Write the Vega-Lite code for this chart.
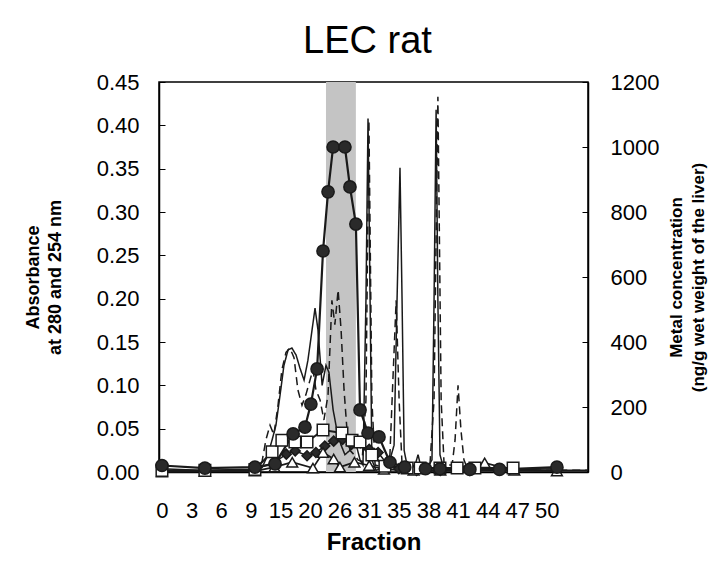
{
  "$schema": "https://vega.github.io/schema/vega-lite/v6.json",
  "width": 429,
  "height": 390,
  "autosize": "none",
  "padding": {"left": 159, "top": 82, "right": 123, "bottom": 99},
  "background": "white",
  "title": {"text": "LEC rat", "fontSize": 38, "font": "Liberation Sans", "fontWeight": "normal", "color": "black", "anchor": "middle", "offset": 10, "dx": -6},
  "config": {
    "view": {"stroke": "black", "strokeWidth": 1.5},
    "axis": {"grid": false, "labelFont": "Liberation Sans", "titleFont": "Liberation Sans", "labelColor": "black", "titleColor": "black", "domainColor": "black", "domainWidth": 1.5, "tickColor": "black", "tickWidth": 1, "labelFontSize": 22, "labelFlush": false, "labelOverlap": false, "titleFontWeight": "bold"}
  },
  "datasets": {
    "band": [{"from": 5.54, "to": 6.55}],
    "absorbance": [
      {"pos": -0.07, "series": "A280", "abs": 0.002},
      {"pos": 1.28, "series": "A280", "abs": 0.001},
      {"pos": 2.97, "series": "A280", "abs": 0.002},
      {"pos": 3.38, "series": "A280", "abs": 0.005},
      {"pos": 3.58, "series": "A280", "abs": 0.020},
      {"pos": 3.72, "series": "A280", "abs": 0.037},
      {"pos": 3.85, "series": "A280", "abs": 0.054},
      {"pos": 3.99, "series": "A280", "abs": 0.089},
      {"pos": 4.12, "series": "A280", "abs": 0.123},
      {"pos": 4.26, "series": "A280", "abs": 0.141},
      {"pos": 4.39, "series": "A280", "abs": 0.143},
      {"pos": 4.53, "series": "A280", "abs": 0.135},
      {"pos": 4.66, "series": "A280", "abs": 0.120},
      {"pos": 4.80, "series": "A280", "abs": 0.106},
      {"pos": 4.93, "series": "A280", "abs": 0.129},
      {"pos": 5.07, "series": "A280", "abs": 0.164},
      {"pos": 5.17, "series": "A280", "abs": 0.189},
      {"pos": 5.27, "series": "A280", "abs": 0.164},
      {"pos": 5.41, "series": "A280", "abs": 0.100},
      {"pos": 5.54, "series": "A280", "abs": 0.123},
      {"pos": 5.64, "series": "A280", "abs": 0.115},
      {"pos": 5.78, "series": "A280", "abs": 0.072},
      {"pos": 5.91, "series": "A280", "abs": 0.048},
      {"pos": 6.05, "series": "A280", "abs": 0.031},
      {"pos": 6.18, "series": "A280", "abs": 0.020},
      {"pos": 6.35, "series": "A280", "abs": 0.025},
      {"pos": 6.52, "series": "A280", "abs": 0.037},
      {"pos": 6.69, "series": "A280", "abs": 0.014},
      {"pos": 6.79, "series": "A280", "abs": 0.008},
      {"pos": 6.89, "series": "A280", "abs": 0.198},
      {"pos": 6.96, "series": "A280", "abs": 0.408},
      {"pos": 7.03, "series": "A280", "abs": 0.198},
      {"pos": 7.09, "series": "A280", "abs": 0.014},
      {"pos": 7.23, "series": "A280", "abs": 0.002},
      {"pos": 7.53, "series": "A280", "abs": 0.005},
      {"pos": 7.70, "series": "A280", "abs": 0.014},
      {"pos": 7.84, "series": "A280", "abs": 0.031},
      {"pos": 7.94, "series": "A280", "abs": 0.198},
      {"pos": 8.04, "series": "A280", "abs": 0.351},
      {"pos": 8.11, "series": "A280", "abs": 0.198},
      {"pos": 8.18, "series": "A280", "abs": 0.025},
      {"pos": 8.31, "series": "A280", "abs": 0.002},
      {"pos": 8.55, "series": "A280", "abs": 0.008},
      {"pos": 8.65, "series": "A280", "abs": 0.020},
      {"pos": 8.75, "series": "A280", "abs": 0.005},
      {"pos": 8.92, "series": "A280", "abs": 0.002},
      {"pos": 9.12, "series": "A280", "abs": 0.014},
      {"pos": 9.19, "series": "A280", "abs": 0.198},
      {"pos": 9.26, "series": "A280", "abs": 0.418},
      {"pos": 9.32, "series": "A280", "abs": 0.198},
      {"pos": 9.39, "series": "A280", "abs": 0.020},
      {"pos": 9.53, "series": "A280", "abs": 0.002},
      {"pos": 14.39, "series": "A280", "abs": 0.002},
      {"pos": -0.07, "series": "A254", "abs": 0.001},
      {"pos": 3.14, "series": "A254", "abs": 0.002},
      {"pos": 3.38, "series": "A254", "abs": 0.012},
      {"pos": 3.51, "series": "A254", "abs": 0.037},
      {"pos": 3.65, "series": "A254", "abs": 0.054},
      {"pos": 3.78, "series": "A254", "abs": 0.043},
      {"pos": 3.92, "series": "A254", "abs": 0.077},
      {"pos": 4.05, "series": "A254", "abs": 0.118},
      {"pos": 4.19, "series": "A254", "abs": 0.138},
      {"pos": 4.32, "series": "A254", "abs": 0.143},
      {"pos": 4.46, "series": "A254", "abs": 0.132},
      {"pos": 4.59, "series": "A254", "abs": 0.095},
      {"pos": 4.73, "series": "A254", "abs": 0.077},
      {"pos": 4.86, "series": "A254", "abs": 0.089},
      {"pos": 5.00, "series": "A254", "abs": 0.106},
      {"pos": 5.10, "series": "A254", "abs": 0.118},
      {"pos": 5.20, "series": "A254", "abs": 0.095},
      {"pos": 5.34, "series": "A254", "abs": 0.083},
      {"pos": 5.47, "series": "A254", "abs": 0.060},
      {"pos": 5.61, "series": "A254", "abs": 0.089},
      {"pos": 5.74, "series": "A254", "abs": 0.198},
      {"pos": 5.84, "series": "A254", "abs": 0.170},
      {"pos": 5.95, "series": "A254", "abs": 0.210},
      {"pos": 6.05, "series": "A254", "abs": 0.164},
      {"pos": 6.15, "series": "A254", "abs": 0.095},
      {"pos": 6.25, "series": "A254", "abs": 0.048},
      {"pos": 6.35, "series": "A254", "abs": 0.025},
      {"pos": 6.49, "series": "A254", "abs": 0.020},
      {"pos": 6.62, "series": "A254", "abs": 0.014},
      {"pos": 6.76, "series": "A254", "abs": 0.012},
      {"pos": 6.89, "series": "A254", "abs": 0.083},
      {"pos": 6.99, "series": "A254", "abs": 0.406},
      {"pos": 7.09, "series": "A254", "abs": 0.083},
      {"pos": 7.20, "series": "A254", "abs": 0.008},
      {"pos": 7.53, "series": "A254", "abs": 0.005},
      {"pos": 7.70, "series": "A254", "abs": 0.020},
      {"pos": 7.80, "series": "A254", "abs": 0.106},
      {"pos": 7.91, "series": "A254", "abs": 0.198},
      {"pos": 8.01, "series": "A254", "abs": 0.083},
      {"pos": 8.11, "series": "A254", "abs": 0.008},
      {"pos": 8.38, "series": "A254", "abs": 0.005},
      {"pos": 9.05, "series": "A254", "abs": 0.008},
      {"pos": 9.19, "series": "A254", "abs": 0.083},
      {"pos": 9.32, "series": "A254", "abs": 0.433},
      {"pos": 9.43, "series": "A254", "abs": 0.083},
      {"pos": 9.53, "series": "A254", "abs": 0.008},
      {"pos": 9.80, "series": "A254", "abs": 0.008},
      {"pos": 9.90, "series": "A254", "abs": 0.037},
      {"pos": 10.00, "series": "A254", "abs": 0.100},
      {"pos": 10.10, "series": "A254", "abs": 0.048},
      {"pos": 10.20, "series": "A254", "abs": 0.014},
      {"pos": 10.34, "series": "A254", "abs": 0.002},
      {"pos": 14.39, "series": "A254", "abs": 0.002}
    ],
    "metal": [
      {"pos": 0.00, "metal": "D", "conc": 10},
      {"pos": 1.45, "metal": "D", "conc": 5},
      {"pos": 3.14, "metal": "D", "conc": 8},
      {"pos": 3.80, "metal": "D", "conc": 30},
      {"pos": 4.20, "metal": "D", "conc": 55},
      {"pos": 4.50, "metal": "D", "conc": 65},
      {"pos": 4.90, "metal": "D", "conc": 50},
      {"pos": 5.20, "metal": "D", "conc": 60},
      {"pos": 5.50, "metal": "D", "conc": 80},
      {"pos": 5.80, "metal": "D", "conc": 95},
      {"pos": 6.10, "metal": "D", "conc": 100},
      {"pos": 6.40, "metal": "D", "conc": 85},
      {"pos": 6.70, "metal": "D", "conc": 90},
      {"pos": 7.00, "metal": "D", "conc": 70},
      {"pos": 7.30, "metal": "D", "conc": 60},
      {"pos": 7.60, "metal": "D", "conc": 25},
      {"pos": 8.00, "metal": "D", "conc": 10},
      {"pos": 8.60, "metal": "D", "conc": 5},
      {"pos": 9.40, "metal": "D", "conc": 5},
      {"pos": 10.40, "metal": "D", "conc": 5},
      {"pos": 13.34, "metal": "D", "conc": 10},
      {"pos": 0.00, "metal": "C", "conc": 0},
      {"pos": 1.45, "metal": "C", "conc": 2},
      {"pos": 3.14, "metal": "C", "conc": 3},
      {"pos": 3.80, "metal": "C", "conc": 15},
      {"pos": 4.40, "metal": "C", "conc": 30},
      {"pos": 5.10, "metal": "C", "conc": 12},
      {"pos": 5.44, "metal": "C", "conc": 60},
      {"pos": 5.80, "metal": "C", "conc": 40},
      {"pos": 6.01, "metal": "C", "conc": 15},
      {"pos": 6.50, "metal": "C", "conc": 30},
      {"pos": 7.00, "metal": "C", "conc": 20},
      {"pos": 7.50, "metal": "C", "conc": 8},
      {"pos": 8.50, "metal": "C", "conc": 5},
      {"pos": 9.40, "metal": "C", "conc": 5},
      {"pos": 10.90, "metal": "C", "conc": 28},
      {"pos": 11.90, "metal": "C", "conc": 5},
      {"pos": 13.34, "metal": "C", "conc": 3},
      {"pos": 0.00, "metal": "B", "conc": 5},
      {"pos": 1.45, "metal": "B", "conc": 5},
      {"pos": 3.14, "metal": "B", "conc": 8},
      {"pos": 3.72, "metal": "B", "conc": 62},
      {"pos": 4.05, "metal": "B", "conc": 98},
      {"pos": 4.49, "metal": "B", "conc": 92},
      {"pos": 4.90, "metal": "B", "conc": 92},
      {"pos": 5.44, "metal": "B", "conc": 129},
      {"pos": 6.08, "metal": "B", "conc": 120},
      {"pos": 6.42, "metal": "B", "conc": 98},
      {"pos": 6.69, "metal": "B", "conc": 92},
      {"pos": 7.09, "metal": "B", "conc": 52},
      {"pos": 7.53, "metal": "B", "conc": 18},
      {"pos": 8.28, "metal": "B", "conc": 12},
      {"pos": 8.72, "metal": "B", "conc": 12},
      {"pos": 9.39, "metal": "B", "conc": 12},
      {"pos": 9.97, "metal": "B", "conc": 12},
      {"pos": 10.57, "metal": "B", "conc": 12},
      {"pos": 11.86, "metal": "B", "conc": 12},
      {"pos": 0.00, "metal": "A", "conc": 20},
      {"pos": 1.45, "metal": "A", "conc": 12},
      {"pos": 3.14, "metal": "A", "conc": 15},
      {"pos": 3.82, "metal": "A", "conc": 25},
      {"pos": 4.43, "metal": "A", "conc": 117},
      {"pos": 4.83, "metal": "A", "conc": 138},
      {"pos": 5.03, "metal": "A", "conc": 209},
      {"pos": 5.24, "metal": "A", "conc": 317},
      {"pos": 5.44, "metal": "A", "conc": 680},
      {"pos": 5.61, "metal": "A", "conc": 862},
      {"pos": 5.78, "metal": "A", "conc": 1000},
      {"pos": 6.18, "metal": "A", "conc": 1000},
      {"pos": 6.35, "metal": "A", "conc": 877},
      {"pos": 6.55, "metal": "A", "conc": 763},
      {"pos": 6.69, "metal": "A", "conc": 191},
      {"pos": 6.96, "metal": "A", "conc": 120},
      {"pos": 7.33, "metal": "A", "conc": 108},
      {"pos": 7.70, "metal": "A", "conc": 30},
      {"pos": 8.20, "metal": "A", "conc": 15},
      {"pos": 8.90, "metal": "A", "conc": 10},
      {"pos": 9.39, "metal": "A", "conc": 10},
      {"pos": 10.40, "metal": "A", "conc": 8},
      {"pos": 11.40, "metal": "A", "conc": 8},
      {"pos": 13.34, "metal": "A", "conc": 15}
    ]
  },
  "layer": [
    {
      "data": {"name": "band"},
      "mark": {"type": "rect", "color": "#c4c4c4"},
      "encoding": {
        "x": {"field": "from", "type": "quantitative", "scale": {"domain": [-0.1, 14.39], "nice": false, "zero": false},
          "axis": {"values": [0,1,2,3,4,5,6,7,8,9,10,11,12,13], "labelExpr": "['0','3','6','9','15','20','26','31','35','38','41','44','47','50'][datum.value]", "title": "Fraction", "ticks": false, "labelPadding": 28, "titleFontSize": 24, "titlePadding": 9}},
        "x2": {"field": "to"}
      }
    },
    {
      "data": {"name": "absorbance"},
      "mark": {"type": "line", "color": "#1a1a1a", "strokeWidth": 1.5},
      "encoding": {
        "x": {"field": "pos", "type": "quantitative", "scale": {"domain": [-0.1, 14.39], "nice": false, "zero": false},
          "axis": {"values": [0,1,2,3,4,5,6,7,8,9,10,11,12,13], "labelExpr": "['0','3','6','9','15','20','26','31','35','38','41','44','47','50'][datum.value]", "title": "Fraction", "ticks": false, "labelPadding": 28, "titleFontSize": 24, "titlePadding": 9}},
        "y": {"field": "abs", "type": "quantitative", "scale": {"domain": [0, 0.45], "nice": false},
          "axis": {"orient": "left", "values": [0,0.05,0.1,0.15,0.2,0.25,0.3,0.35,0.4,0.45], "format": ".2f", "tickSize": -6, "labelPadding": 26, "title": ["Absorbance", "at 280 and 254 nm"], "titleFontSize": 18, "titleLineHeight": 22, "titlePadding": 32}},
        "strokeDash": {"field": "series", "type": "nominal", "scale": {"domain": ["A280", "A254"], "range": [[1, 0], [8, 5]]}, "legend": null},
        "detail": {"field": "series"}
      }
    },
    {
      "data": {"name": "metal"},
      "encoding": {
        "x": {"field": "pos", "type": "quantitative", "scale": {"domain": [-0.1, 14.39], "nice": false, "zero": false},
          "axis": {"values": [0,1,2,3,4,5,6,7,8,9,10,11,12,13], "labelExpr": "['0','3','6','9','15','20','26','31','35','38','41','44','47','50'][datum.value]", "title": "Fraction", "ticks": false, "labelPadding": 28, "titleFontSize": 24, "titlePadding": 9}},
        "y": {"field": "conc", "type": "quantitative", "scale": {"domain": [0, 1200], "nice": false},
          "axis": {"orient": "right", "values": [0,200,400,600,800,1000,1200], "format": "d", "tickSize": -6, "labelPadding": 28, "title": ["Metal concentration", "(ng/g wet weight of the liver)"], "titleFontSize": 17, "titleLineHeight": 22, "titleAngle": -90, "titleBaseline": "top", "titlePadding": -12}}
      },
      "layer": [
        {
          "mark": {"type": "line", "color": "#1a1a1a"},
          "encoding": {
            "detail": {"field": "metal"},
            "strokeWidth": {"field": "metal", "type": "nominal", "scale": {"domain": ["A", "B", "C", "D"], "range": [2.2, 1.5, 1.5, 2.5]}, "legend": null}
          }
        },
        {
          "mark": {"type": "point", "filled": false, "stroke": "#1a1a1a", "strokeWidth": 1.5, "opacity": 1},
          "encoding": {
            "shape": {"field": "metal", "type": "nominal", "scale": {"domain": ["A", "B", "C", "D"], "range": ["circle", "square", "triangle-up", "diamond"]}, "legend": null},
            "fill": {"field": "metal", "type": "nominal", "scale": {"domain": ["A", "B", "C", "D"], "range": ["#2a2a2a", "white", "white", "#2a2a2a"]}, "legend": null},
            "size": {"field": "metal", "type": "nominal", "scale": {"domain": ["A", "B", "C", "D"], "range": [150, 100, 90, 90]}, "legend": null}
          }
        }
      ]
    }
  ],
  "resolve": {"scale": {"y": "independent"}}
}
